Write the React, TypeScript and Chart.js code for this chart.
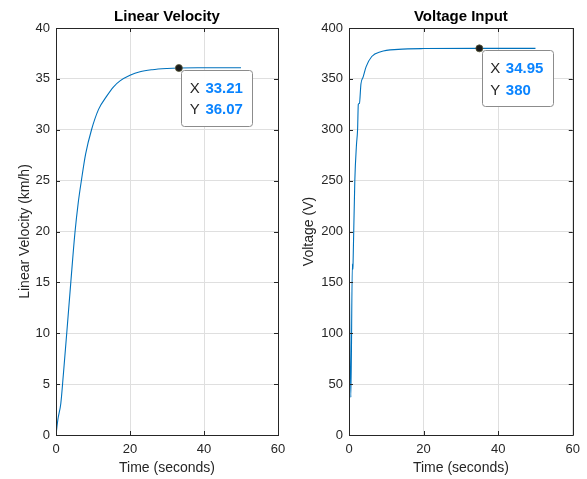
import React, { useEffect, useRef } from "react";
import { Chart, registerables } from "chart.js";

Chart.register(...registerables);

// ---- Data ----
const velocityTime = [0, 0.5, 1.3, 2, 2.9, 4, 5.1, 6, 6.9, 8, 9.6, 11.5, 13.7, 15.5, 17.3, 20, 22.7, 26, 30, 33.21, 40, 50];
const velocityValues = [0, 1.5, 3.1, 6, 10, 15, 19.8, 22.8, 25.1, 27.6, 30, 32.0, 33.3, 34.2, 34.8, 35.35, 35.7, 35.9, 36.02, 36.07, 36.09, 36.1];

const voltageTime = [0, 0.5, 0.9, 1.05, 1.1, 1.56, 2.0, 2.3, 2.5, 2.8, 3.2, 3.8, 4.6, 6.1, 8.5, 13.2, 20, 34.95, 50];
const voltageValues = [190, 37, 168, 163, 170, 250, 285, 300, 325, 326, 345, 352, 362, 372, 376.7, 379, 379.8, 380, 380];

const xTicks = [0, 20, 40, 60];
const velocityTicks = [0, 5, 10, 15, 20, 25, 30, 35, 40];
const voltageTicks = [0, 50, 100, 150, 200, 250, 300, 350, 400];

const velocityTip = { x: 33.21, y: 36.07, xLabel: "33.21", yLabel: "36.07" };
const voltageTip = { x: 34.95, y: 380, xLabel: "34.95", yLabel: "380" };

const AXIS_COLOR = "#262626";
const GRID_COLOR = "#dfdfdf";
const LINE_COLOR = "#0072BD";
const FONT = "'Liberation Sans', Arial, Helvetica, sans-serif";

function makeFrame(title: string, tip: { x: number; y: number; xLabel: string; yLabel: string }) {
  return {
    id: "frame-" + title,
    afterDraw(chart: any) {
      const { ctx, chartArea: a, scales } = chart;
      ctx.save();
      // box
      ctx.strokeStyle = AXIS_COLOR;
      ctx.lineWidth = 1;
      ctx.beginPath();
      ctx.rect(Math.round(a.left) + 0.5, Math.round(a.top) + 0.5, Math.round(a.right - a.left), Math.round(a.bottom - a.top));
      ctx.stroke();
      // inward ticks
      const tl = 4;
      ctx.beginPath();
      scales.x.ticks.forEach((t: any) => {
        const px = Math.round(scales.x.getPixelForValue(t.value)) + 0.5;
        ctx.moveTo(px, a.bottom);
        ctx.lineTo(px, a.bottom - tl);
        ctx.moveTo(px, a.top);
        ctx.lineTo(px, a.top + tl);
      });
      scales.y.ticks.forEach((t: any) => {
        const py = Math.round(scales.y.getPixelForValue(t.value)) + 0.5;
        ctx.moveTo(a.left, py);
        ctx.lineTo(a.left + tl, py);
        ctx.moveTo(a.right, py);
        ctx.lineTo(a.right - tl, py);
      });
      ctx.stroke();
      // title
      ctx.fillStyle = "#000000";
      ctx.font = "bold 15px " + FONT;
      ctx.textAlign = "center";
      ctx.textBaseline = "middle";
      ctx.fillText(title, (a.left + a.right) / 2, 17);
      // data tip
      const mx = scales.x.getPixelForValue(tip.x);
      const my = scales.y.getPixelForValue(tip.y);
      const bx = mx + 2.5;
      const by = my + 1.7;
      const bw = 71;
      const bh = 56;
      ctx.beginPath();
      (ctx as any).roundRect(Math.round(bx) + 0.5, Math.round(by) + 0.5, bw, bh, 3);
      ctx.fillStyle = "rgba(255,255,255,0.95)";
      ctx.fill();
      ctx.strokeStyle = "#8c8c8c";
      ctx.stroke();
      ctx.beginPath();
      ctx.arc(mx, my, 3.5, 0, Math.PI * 2);
      ctx.fillStyle = "#1a1a1a";
      ctx.fill();
      ctx.strokeStyle = "#5a5a3a";
      ctx.lineWidth = 0.8;
      ctx.stroke();
      ctx.textAlign = "left";
      ctx.textBaseline = "middle";
      ctx.font = "15px " + FONT;
      ctx.fillStyle = AXIS_COLOR;
      ctx.fillText("X", bx + 8.3, by + 18.7);
      ctx.fillText("Y", bx + 8.3, by + 40.5);
      ctx.font = "bold 15px " + FONT;
      ctx.fillStyle = "#0a84ff";
      ctx.fillText(tip.xLabel, bx + 24, by + 18.7);
      ctx.fillText(tip.yLabel, bx + 24, by + 40.5);
      ctx.restore();
    },
  };
}

function buildConfig(
  times: number[],
  values: number[],
  yTicks: number[],
  yTitle: string,
  yTitlePad: number,
  padRight: number,
  title: string,
  tip: any
): any {
  const points = times.map((t, i) => ({ x: t, y: values[i] }));
  const yMin = yTicks[0];
  const yMax = yTicks[yTicks.length - 1];
  return {
    type: "line",
    data: {
      datasets: [
        {
          data: points,
          borderColor: LINE_COLOR,
          borderWidth: 1.1,
          pointRadius: 0,
          cubicInterpolationMode: "monotone",
          fill: false,
        },
      ],
    },
    options: {
      responsive: false,
      animation: false,
      devicePixelRatio: 1,
      layout: { padding: { top: 28, right: padRight, bottom: 0, left: 0 } },
      plugins: { legend: { display: false }, tooltip: { enabled: false }, title: { display: false } },
      scales: {
        x: {
          type: "linear",
          min: xTicks[0],
          max: xTicks[xTicks.length - 1],
          afterBuildTicks: (s: any) => {
            s.ticks = xTicks.map((v) => ({ value: v }));
          },
          afterFit: (s: any) => {
            s.height = 44;
          },
          ticks: { color: AXIS_COLOR, font: { size: 13, family: FONT }, padding: 7, maxRotation: 0 },
          grid: { color: GRID_COLOR, drawTicks: false },
          border: { display: true, color: AXIS_COLOR },
          title: {
            display: true,
            text: "Time (seconds)",
            color: AXIS_COLOR,
            font: { size: 14, family: FONT },
            padding: { top: 0, bottom: 2.6 },
          },
        },
        y: {
          type: "linear",
          min: yMin,
          max: yMax,
          afterBuildTicks: (s: any) => {
            s.ticks = yTicks.map((v) => ({ value: v }));
          },
          afterFit: (s: any) => {
            s.width = 56;
          },
          ticks: { color: AXIS_COLOR, font: { size: 13, family: FONT }, padding: 6 },
          grid: { color: GRID_COLOR, drawTicks: false },
          border: { display: true, color: AXIS_COLOR },
          title: {
            display: true,
            text: yTitle,
            color: AXIS_COLOR,
            font: { size: 14, family: FONT },
            padding: { top: yTitlePad, bottom: 0 },
          },
        },
      },
    },
    plugins: [makeFrame(title, tip)],
  };
}

export default function App() {
  const leftRef = useRef<HTMLCanvasElement | null>(null);
  const rightRef = useRef<HTMLCanvasElement | null>(null);

  useEffect(() => {
    document.body.style.margin = "0";
    const c1 = new Chart(
      leftRef.current as HTMLCanvasElement,
      buildConfig(velocityTime, velocityValues, velocityTicks, "Linear Velocity (km/h)", 16.6, 15, "Linear Velocity", velocityTip)
    );
    const c2 = new Chart(
      rightRef.current as HTMLCanvasElement,
      buildConfig(voltageTime, voltageValues, voltageTicks, "Voltage (V)", 7.6, 14, "Voltage Input", voltageTip)
    );
    return () => {
      c1.destroy();
      c2.destroy();
    };
  }, []);

  return (
    <div style={{ position: "relative", width: 587, height: 479, background: "#ffffff" }}>
      <canvas
        ref={leftRef}
        width={293}
        height={479}
        style={{ position: "absolute", left: 0, top: 0, width: 293, height: 479 }}
      />
      <canvas
        ref={rightRef}
        width={294}
        height={479}
        style={{ position: "absolute", left: 293, top: 0, width: 294, height: 479 }}
      />
    </div>
  );
}
